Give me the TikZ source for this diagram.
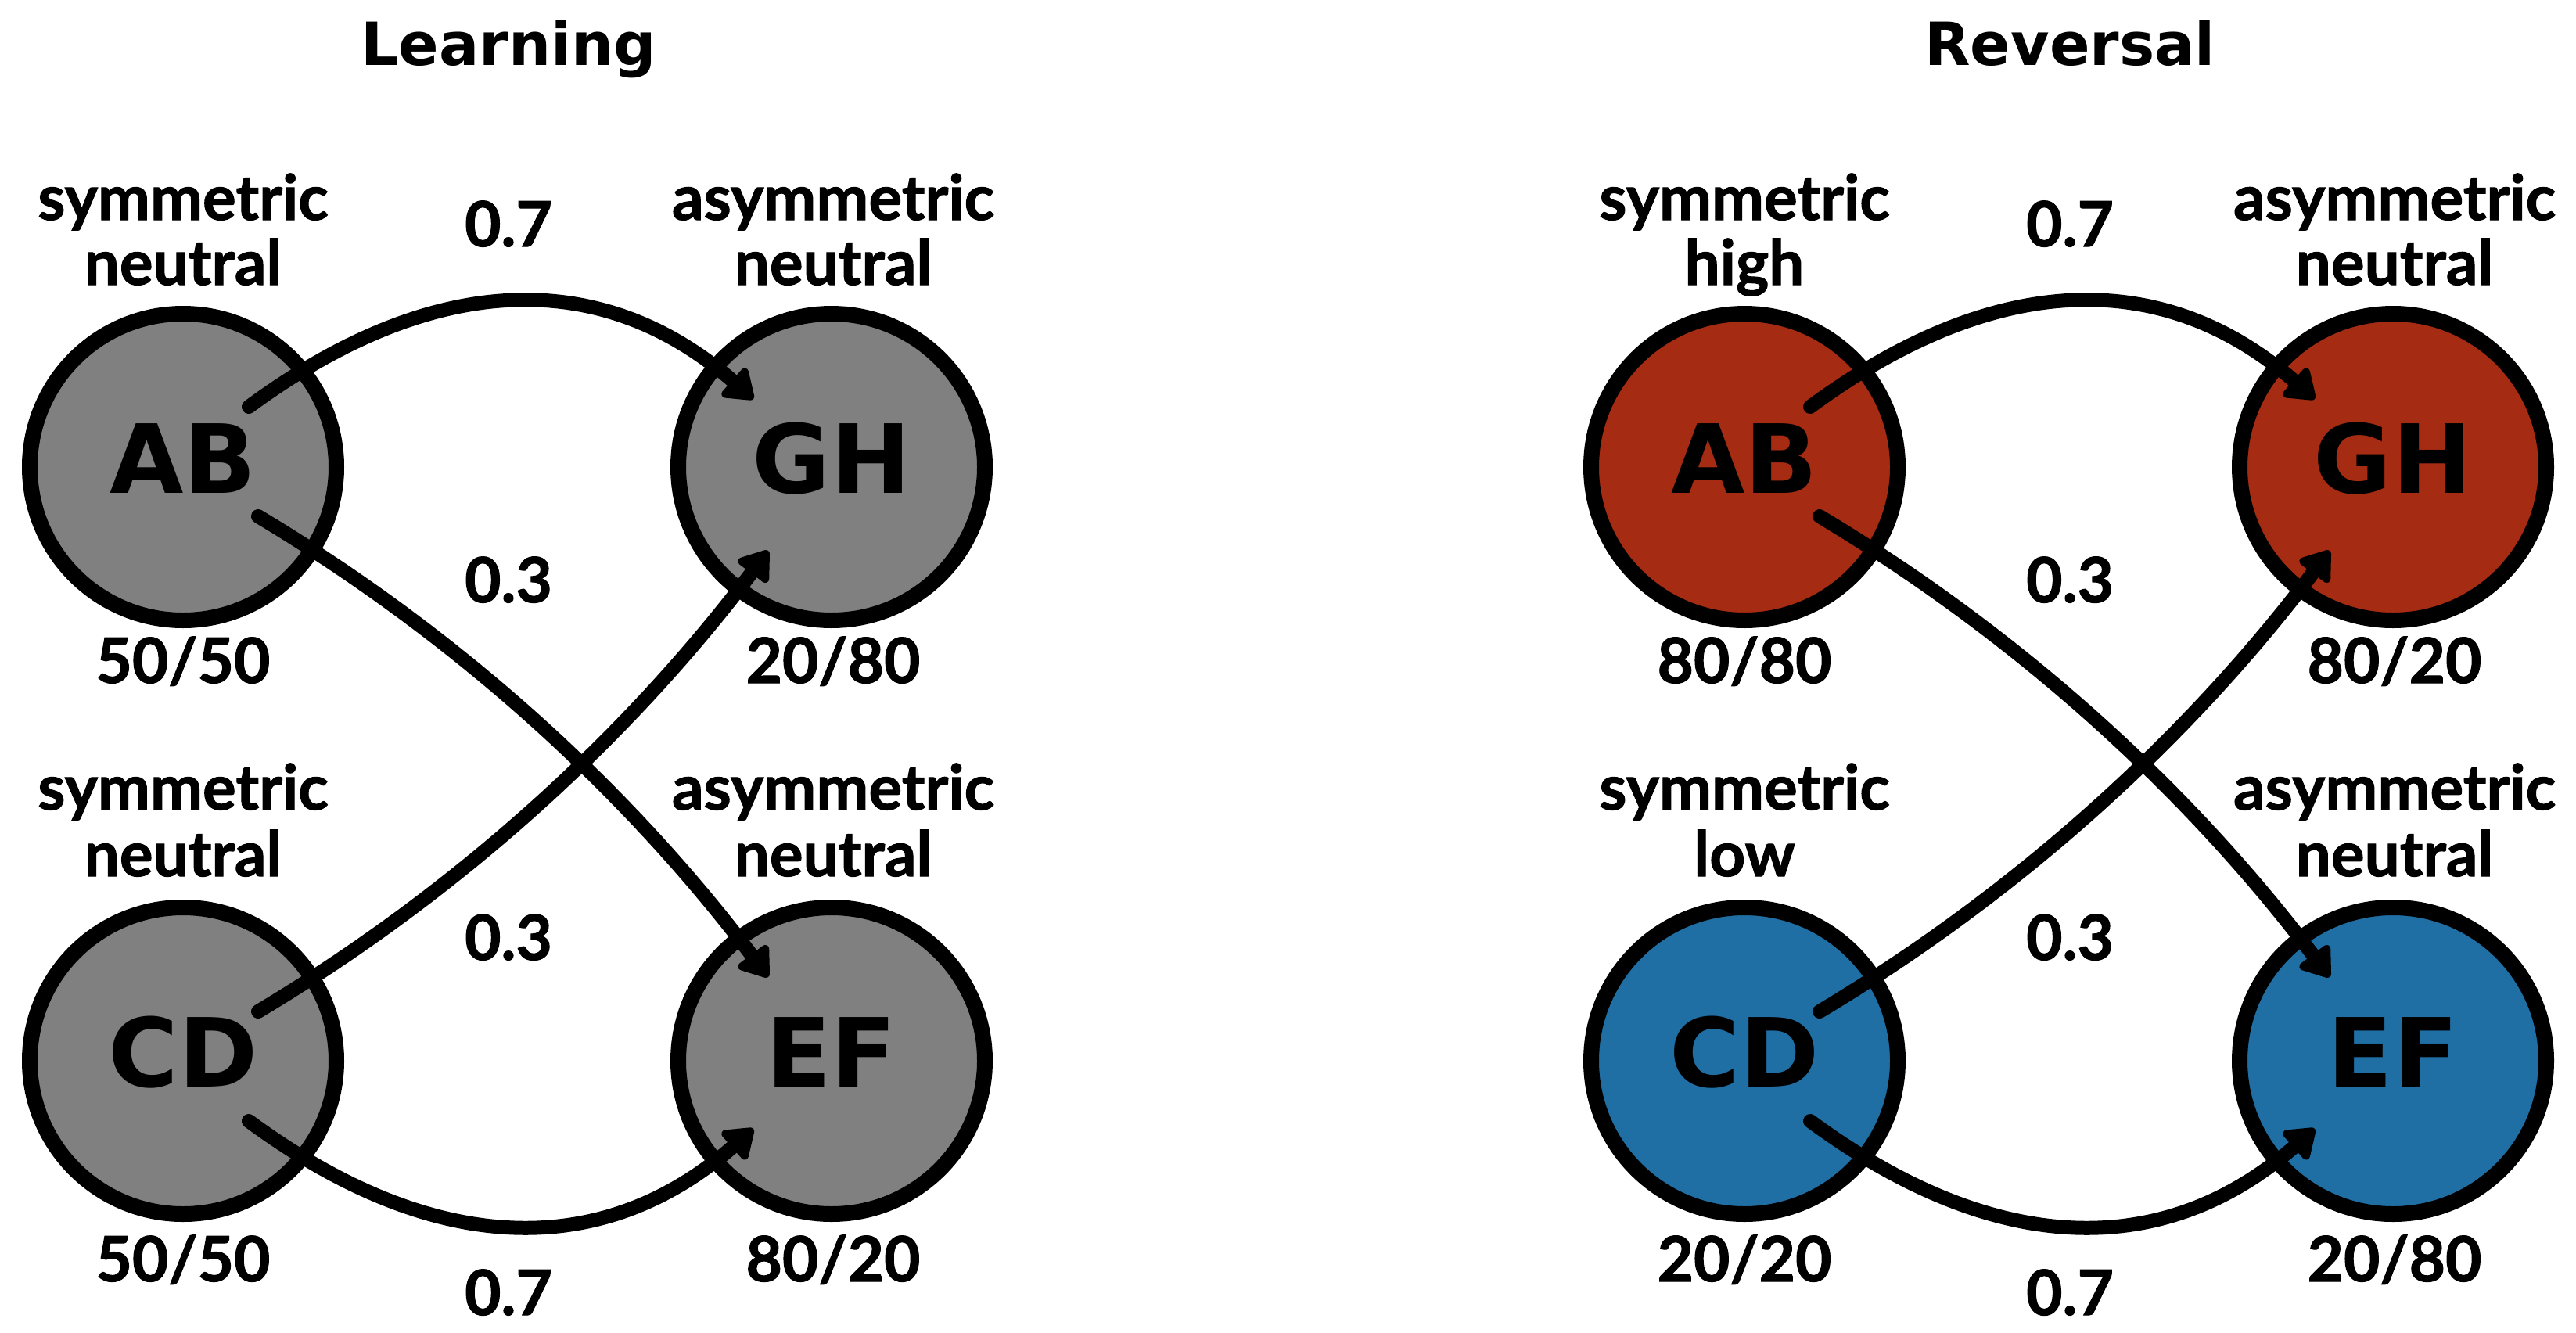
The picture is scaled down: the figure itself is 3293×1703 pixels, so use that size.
\documentclass[tikz,border=0pt]{standalone}
\usepackage{fontspec}
\setmainfont{DejaVu Sans}
\newfontfamily\lblfont{Lato}[BoldFeatures={FakeBold=1.3}]
\usetikzlibrary{arrows.meta,calc}
\definecolor{ngray}{HTML}{808080}
\definecolor{nred}{HTML}{A62B13}
\definecolor{nblue}{HTML}{1F6EA4}
\tikzset{
  statenode/.style={circle, draw=black, line width=20pt, minimum size=392pt, inner sep=0pt,
    text height=89pt, text depth=22pt, font=\bfseries\fontsize{122}{140}\selectfont},
  lbl/.style={anchor=base, inner sep=0pt, font=\lblfont\bfseries\fontsize{80}{96}\selectfont},
  ttl/.style={anchor=base, inner sep=0pt, font=\bfseries\fontsize{76}{90}\selectfont},
  conn/.style={line width=18pt, line cap=round,
    -{Triangle[length=40pt,width=54pt,line width=14pt,round]}},
}
\begin{document}
\begin{tikzpicture}[x=1pt,y=-1pt]
\fill[white] (0,0) rectangle (3293,1703);
\useasboundingbox (0,0) rectangle (3293,1703);

% ---------------- Learning panel ----------------
\node[ttl] (L-title) at (650,83) {Learning};
\node[statenode, fill=ngray] (L-AB) at (234,597) {AB};
\node[statenode, fill=ngray] (L-GH) at (1063,597) {GH};
\node[statenode, fill=ngray] (L-CD) at (234,1356) {CD};
\node[statenode, fill=ngray] (L-EF) at (1063,1356) {EF};

\node[lbl] (L-ab1) at (234,281) {symmetric};
\node[lbl] (L-ab2) at (234,364) {neutral};
\node[lbl] (L-gh1) at (1065,281) {asymmetric};
\node[lbl] (L-gh2) at (1065,364) {neutral};
\node[lbl] (L-p1) at (650,315) {0.7};
\node[lbl] (L-p2) at (650,770) {0.3};
\node[lbl] (L-ab3) at (234,873) {50/50};
\node[lbl] (L-gh3) at (1065,873) {20/80};
\node[lbl] (L-cd1) at (234,1035) {symmetric};
\node[lbl] (L-cd2) at (234,1120) {neutral};
\node[lbl] (L-ef1) at (1065,1035) {asymmetric};
\node[lbl] (L-ef2) at (1065,1120) {neutral};
\node[lbl] (L-p3) at (650,1227) {0.3};
\node[lbl] (L-cd3) at (234,1638) {50/50};
\node[lbl] (L-ef3) at (1065,1638) {80/20};
\node[lbl] (L-p4) at (650,1681) {0.7};

\coordinate (L-a1) at ($(L-AB)+(84,-77)$);
\coordinate (L-g1) at ($(L-GH)+(-100,-87)$);
\coordinate (L-a2) at ($(L-AB)+(96,63)$);
\coordinate (L-e1) at ($(L-EF)+(-81,-107)$);
\coordinate (L-c1) at ($(L-CD)+(96,-63)$);
\coordinate (L-g2) at ($(L-GH)+(-81,107)$);
\coordinate (L-c2) at ($(L-CD)+(84,77)$);
\coordinate (L-e2) at ($(L-EF)+(-100,87)$);
\draw[conn] (L-a1) .. controls +(238,-175) and +(-192,-168) .. (L-g1);
\draw[conn] (L-a2) .. controls +(254,152) and +(-181,-240) .. (L-e1);
\draw[conn] (L-c1) .. controls +(254,-152) and +(-181,240) .. (L-g2);
\draw[conn] (L-c2) .. controls +(238,175) and +(-192,168) .. (L-e2);

% ---------------- Reversal panel ----------------
\node[ttl] (R-title) at (2646,83) {Reversal};
\node[statenode, fill=nred] (R-AB) at (2230,597) {AB};
\node[statenode, fill=nred] (R-GH) at (3059,597) {GH};
\node[statenode, fill=nblue] (R-CD) at (2230,1356) {CD};
\node[statenode, fill=nblue] (R-EF) at (3059,1356) {EF};

\node[lbl] (R-ab1) at (2230,281) {symmetric};
\node[lbl] (R-ab2) at (2230,364) {high};
\node[lbl] (R-gh1) at (3061,281) {asymmetric};
\node[lbl] (R-gh2) at (3061,364) {neutral};
\node[lbl] (R-p1) at (2646,315) {0.7};
\node[lbl] (R-p2) at (2646,770) {0.3};
\node[lbl] (R-ab3) at (2230,873) {80/80};
\node[lbl] (R-gh3) at (3061,873) {80/20};
\node[lbl] (R-cd1) at (2230,1035) {symmetric};
\node[lbl] (R-cd2) at (2230,1120) {low};
\node[lbl] (R-ef1) at (3061,1035) {asymmetric};
\node[lbl] (R-ef2) at (3061,1120) {neutral};
\node[lbl] (R-p3) at (2646,1227) {0.3};
\node[lbl] (R-cd3) at (2230,1638) {20/20};
\node[lbl] (R-ef3) at (3061,1638) {20/80};
\node[lbl] (R-p4) at (2646,1681) {0.7};

\coordinate (R-a1) at ($(R-AB)+(84,-77)$);
\coordinate (R-g1) at ($(R-GH)+(-100,-87)$);
\coordinate (R-a2) at ($(R-AB)+(96,63)$);
\coordinate (R-e1) at ($(R-EF)+(-81,-107)$);
\coordinate (R-c1) at ($(R-CD)+(96,-63)$);
\coordinate (R-g2) at ($(R-GH)+(-81,107)$);
\coordinate (R-c2) at ($(R-CD)+(84,77)$);
\coordinate (R-e2) at ($(R-EF)+(-100,87)$);
\draw[conn] (R-a1) .. controls +(238,-175) and +(-192,-168) .. (R-g1);
\draw[conn] (R-a2) .. controls +(254,152) and +(-181,-240) .. (R-e1);
\draw[conn] (R-c1) .. controls +(254,-152) and +(-181,240) .. (R-g2);
\draw[conn] (R-c2) .. controls +(238,175) and +(-192,168) .. (R-e2);
\end{tikzpicture}
\end{document}
